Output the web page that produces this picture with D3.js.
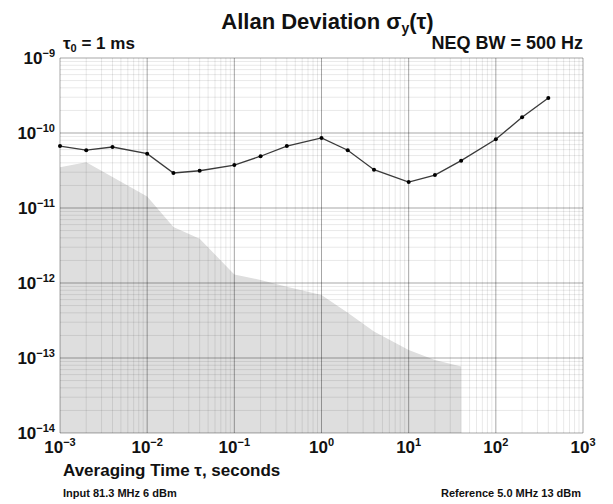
<!DOCTYPE html>
<html>
<head>
<meta charset="utf-8">
<script src="https://cdn.jsdelivr.net/npm/d3@7"></script>
<style>
  body { margin: 0; background: #fff; }
  svg { font-family: "Liberation Sans", Arial, Helvetica, sans-serif; font-weight: bold; }
</style>
</head>
<body>
<svg id="chart"></svg>
<script>
// measured Allan deviation
let tauValues = [0.001, 0.002, 0.004, 0.01, 0.02, 0.04, 0.1, 0.2, 0.4, 1, 2, 4, 10, 20, 40, 100, 200, 400]
let sigmaValues = [6.7e-11, 5.9e-11, 6.5e-11, 5.3e-11, 2.93e-11, 3.14e-11, 3.74e-11, 4.9e-11, 6.7e-11,
                   8.6e-11, 5.9e-11, 3.24e-11, 2.22e-11, 2.75e-11, 4.28e-11, 8.24e-11, 1.62e-10, 2.93e-10]

// noise floor (shaded)
let floorTau = [0.001, 0.002, 0.004, 0.01, 0.02, 0.04, 0.1, 0.2, 0.4, 1, 2, 4, 10, 20, 40]
let floorSigma = [3.5e-11, 4.07e-11, 2.6e-11, 1.42e-11, 5.6e-12, 3.9e-12, 1.3e-12, 1.1e-12, 8.9e-13,
                  6.9e-13, 4.0e-13, 2.25e-13, 1.28e-13, 9.4e-14, 7.7e-14]

let xExponents = [-3, -2, -1, 0, 1, 2, 3]
let yExponents = [-9, -10, -11, -12, -13, -14]

let width = 613
let height = 504
let plotLeft = 60
let plotRight = 583
let plotTop = 58
let plotBottom = 433

let svg = d3.select('#chart')
    .attr('width', width)
    .attr('height', height)

let xScale = d3.scaleLog()
    .domain([1e-3, 1e3])
    .range([plotLeft, plotRight])

let yScale = d3.scaleLog()
    .domain([1e-14, 1e-9])
    .range([plotBottom, plotTop])

// shaded floor first, grid goes over it
let area = d3.area()
    .x((d, i) => xScale(floorTau[i]))
    .y0(yScale(1e-14))
    .y1((d, i) => yScale(d))

svg.append('path')
    .datum(floorSigma)
    .attr('d', area)
    .attr('fill', '#dedede')

// grid lines
let minorX = []
xExponents.slice(0, -1).forEach(e => {
    for (let k = 2; k <= 9; k++) minorX.push(k * Math.pow(10, e))
})
let minorY = []
yExponents.slice(1).forEach(e => {
    for (let k = 2; k <= 9; k++) minorY.push(k * Math.pow(10, e))
})

let grid = svg.append('g')

grid.selectAll('.minor-x')
    .data(minorX)
    .enter()
    .append('line')
    .attr('x1', d => xScale(d))
    .attr('x2', d => xScale(d))
    .attr('y1', plotTop)
    .attr('y2', plotBottom)
    .attr('stroke', 'rgba(0,0,0,0.09)')
    .attr('stroke-width', 1)

grid.selectAll('.minor-y')
    .data(minorY)
    .enter()
    .append('line')
    .attr('x1', plotLeft)
    .attr('x2', plotRight)
    .attr('y1', d => yScale(d))
    .attr('y2', d => yScale(d))
    .attr('stroke', 'rgba(0,0,0,0.09)')
    .attr('stroke-width', 1)

grid.selectAll('.major-x')
    .data(xExponents)
    .enter()
    .append('line')
    .attr('x1', d => xScale(Math.pow(10, d)))
    .attr('x2', d => xScale(Math.pow(10, d)))
    .attr('y1', plotTop)
    .attr('y2', plotBottom)
    .attr('stroke', 'rgba(0,0,0,0.35)')
    .attr('stroke-width', 1)

grid.selectAll('.major-y')
    .data(yExponents)
    .enter()
    .append('line')
    .attr('x1', plotLeft)
    .attr('x2', plotRight)
    .attr('y1', d => yScale(Math.pow(10, d)))
    .attr('y2', d => yScale(Math.pow(10, d)))
    .attr('stroke', 'rgba(0,0,0,0.35)')
    .attr('stroke-width', 1)

// data line and points
let line = d3.line()
    .x((d, i) => xScale(tauValues[i]))
    .y(d => yScale(d))

svg.append('path')
    .datum(sigmaValues)
    .attr('d', line)
    .attr('fill', 'none')
    .attr('stroke', '#3a3a3a')
    .attr('stroke-width', 1.3)

svg.selectAll('.dot')
    .data(sigmaValues)
    .enter()
    .append('circle')
    .attr('cx', (d, i) => xScale(tauValues[i]))
    .attr('cy', d => yScale(d))
    .attr('r', 2)
    .attr('fill', '#000')

// tick labels
let xLabels = svg.selectAll('.xlab')
    .data(xExponents)
    .enter()
    .append('text')
    .attr('x', d => xScale(Math.pow(10, d)))
    .attr('y', 453)
    .attr('text-anchor', 'middle')
    .attr('font-size', 17)
    .attr('fill', '#111')
xLabels.append('tspan').text('10')
xLabels.append('tspan')
    .attr('dy', -7)
    .attr('font-size', 11)
    .text(d => String(d).replace('-', '\u2212'))

let yLabels = svg.selectAll('.ylab')
    .data(yExponents)
    .enter()
    .append('text')
    .attr('x', 55)
    .attr('y', d => yScale(Math.pow(10, d)) + 6)
    .attr('text-anchor', 'end')
    .attr('font-size', 17)
    .attr('fill', '#111')
yLabels.append('tspan').text('10')
yLabels.append('tspan')
    .attr('dy', -7)
    .attr('font-size', 11)
    .text(d => String(d).replace('-', '\u2212'))

// titles and notes
let title = svg.append('text')
    .attr('x', (plotLeft + plotRight) / 2 + 6)
    .attr('y', 29)
    .attr('text-anchor', 'middle')
    .attr('font-size', 22)
    .attr('fill', '#111')
title.append('tspan').text('Allan Deviation \u03c3')
title.append('tspan').attr('font-size', 14).attr('dy', 4).text('y')
title.append('tspan').attr('dy', -4).text('(\u03c4)')

let tau0 = svg.append('text')
    .attr('x', 63)
    .attr('y', 49)
    .attr('font-size', 17)
    .attr('fill', '#111')
tau0.append('tspan').text('\u03c4')
tau0.append('tspan').attr('font-size', 11).attr('dy', 3).text('0')
tau0.append('tspan').attr('dy', -3).text(' = 1 ms')

svg.append('text')
    .attr('x', plotRight)
    .attr('y', 49)
    .attr('text-anchor', 'end')
    .attr('font-size', 18)
    .attr('fill', '#111')
    .text('NEQ BW = 500 Hz')

svg.append('text')
    .attr('x', 63)
    .attr('y', 476)
    .attr('font-size', 17)
    .attr('fill', '#111')
    .text('Averaging Time \u03c4, seconds')

svg.append('text')
    .attr('x', 63)
    .attr('y', 497)
    .attr('font-size', 11)
    .attr('fill', '#111')
    .text('Input 81.3 MHz 6 dBm')

svg.append('text')
    .attr('x', plotRight - 2)
    .attr('y', 497)
    .attr('text-anchor', 'end')
    .attr('font-size', 11)
    .attr('fill', '#111')
    .text('Reference 5.0 MHz 13 dBm')
</script>
</body>
</html>
